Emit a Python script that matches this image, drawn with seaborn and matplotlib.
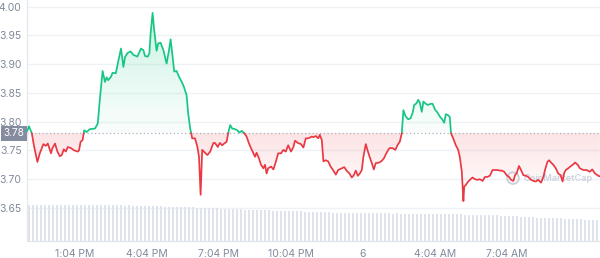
import numpy as np
import matplotlib
matplotlib.use("Agg")
import matplotlib.pyplot as plt
import seaborn as sns
from matplotlib.colors import to_rgb
from matplotlib.path import Path
from matplotlib.patches import PathPatch
import matplotlib.transforms as mtransforms

# ---------------- data ----------------
# minutes after 11:04 AM
times = [0,5,12,18,26,32,41,47,52,60,63,70,76,82,87,92,97,102,110,118,127,130,134,139,143,149,157,170,177,182,
         189,195,199,203,210,214,222,227,235,241,245,251,259,266,276,285,291,295,302,306,309,314,318,324,328,334,341,349,355,359,
         364,368,374,380,387,392,399,403,408,413,420,426,430,434,438,445,451,458,466,470,477,482,488,493,499,503,508,513,520,526,
         531,537,543,549,555,560,566,570,574,580,585,591,595,599,603,610,616,622,628,635,641,647,653,660,666,670,677,685,691,697,
         703,712,716,722,728,732,737,741,747,753,759,766,772,778,787,793,799,806,812,817,822,827,832,837,841,847,851,856,862,867,
         872,881,887,892,899,906,914,921,926,932,937,941,946,953,959,964,968,974,978,982,987,991,997,1003,1009,1014,1020,1026,1032,1039,
         1043,1047,1053,1057,1060,1066,1072,1078,1082,1087,1091,1093,1097,1103,1109,1114,1120,1126,1132,1139,1145,1151,1157,1164,1170,1176,1182,1187,1193,1199,
         1205,1210,1216,1220,1224,1230,1235,1241,1247,1253,1260,1266,1272,1278,1285,1291,1295,1301,1305,1310,1316,1322,1328,1334,1339,1343,1347,1353,1360,1366,
         1370,1377,1382,1391,1399,1407,1413,1420,1428,1432]
prices = [3.783,3.792,3.780,3.756,3.730,3.745,3.761,3.758,3.762,3.745,3.753,3.762,3.748,3.740,3.742,3.752,3.748,3.756,3.754,3.750,3.748,3.750,3.765,3.768,3.785,3.782,3.787,3.788,3.797,3.838,
          3.888,3.869,3.877,3.872,3.878,3.885,3.884,3.901,3.927,3.895,3.912,3.919,3.922,3.916,3.913,3.927,3.924,3.914,3.913,3.919,3.953,3.989,3.959,3.923,3.936,3.937,3.924,3.901,3.924,3.943,
          3.913,3.887,3.888,3.878,3.869,3.861,3.846,3.814,3.788,3.771,3.771,3.756,3.739,3.673,3.751,3.746,3.742,3.748,3.763,3.763,3.756,3.763,3.759,3.762,3.765,3.780,3.794,3.788,3.787,3.785,
          3.781,3.784,3.780,3.774,3.762,3.754,3.745,3.739,3.746,3.736,3.725,3.719,3.725,3.710,3.719,3.722,3.717,3.730,3.745,3.745,3.751,3.748,3.759,3.748,3.756,3.767,3.763,3.761,3.755,3.771,
          3.771,3.774,3.773,3.775,3.771,3.777,3.768,3.731,3.733,3.731,3.722,3.715,3.708,3.716,3.719,3.721,3.715,3.710,3.703,3.707,3.715,3.706,3.710,3.716,3.739,3.761,3.751,3.740,3.728,3.717,
          3.728,3.729,3.732,3.736,3.746,3.754,3.754,3.751,3.759,3.765,3.780,3.820,3.810,3.804,3.806,3.815,3.829,3.832,3.838,3.833,3.817,3.835,3.831,3.829,3.831,3.831,3.821,3.816,3.809,3.803,
          3.798,3.813,3.811,3.808,3.780,3.770,3.759,3.751,3.739,3.713,3.662,3.687,3.690,3.696,3.700,3.703,3.700,3.699,3.700,3.697,3.704,3.704,3.706,3.716,3.716,3.716,3.715,3.715,3.713,3.707,
          3.704,3.699,3.697,3.707,3.710,3.723,3.716,3.707,3.706,3.704,3.699,3.697,3.696,3.699,3.694,3.704,3.716,3.730,3.733,3.729,3.725,3.719,3.710,3.707,3.696,3.711,3.716,3.719,3.723,3.726,
          3.729,3.725,3.719,3.716,3.716,3.713,3.717,3.710,3.706,3.705]
base_price = 3.78

# volume bars, one per 10 minutes
volume = [36.0,36.0,35.8,36.0,36.0,35.9,36.0,35.8,36.0,36.0,35.9,36.0,35.8,36.0,35.9,36.0,35.7,35.8,35.9,35.7,35.8,35.6,35.8,
          35.6,35.5,35.6,35.4,35.5,35.3,35.4,35.2,35.0,34.8,
          34.6,34.5,34.4,34.2,34.3,34.0,33.9,33.8,33.6,33.4,
          33.2,33.0,33.1,32.8,32.7,32.5,32.4,32.2,32.0,31.9,31.7,31.5,31.4,31.2,31.0,30.9,30.8,30.6,
          30.5,30.4,30.3,30.1,30.0,29.9,29.8,29.6,29.5,29.3,29.2,29.0,28.9,28.7,28.6,
          28.4,28.3,28.2,28.1,28.0,28.0,27.9,27.9,27.8,27.8,27.7,27.8,27.6,27.7,27.6,27.5,27.6,27.5,27.4,27.5,27.4,27.3,27.4,27.3,27.2,27.2,27.1,27.0,27.0,26.9,26.8,26.7,26.6,26.5,26.4,
          26.3,26.2,26.1,26.0,25.9,25.8,25.6,25.5,25.4,25.2,25.0,24.8,24.5,24.2,24.0,
          23.6,23.4,23.2,23.0,22.9,22.8,22.7,22.6,22.5,22.3,22.1,21.9,
          21.7,21.5,21.4,21.3,21.2,21.1]
volume_step = 10  # minutes per bar

ytick_values = [3.65, 3.70, 3.75, 3.80, 3.85, 3.90, 3.95, 4.00]
xtick_minutes = [120, 300, 480, 660, 840, 1020, 1200]
xtick_labels = ["1:04 PM", "4:04 PM", "7:04 PM", "10:04 PM", "6", "4:04 AM", "7:04 AM"]

assert len(times) == len(prices), (len(times), len(prices))

# ---------------- style ----------------
sns.set_style("white")
plt.rcParams["font.family"] = ["Inter", "DejaVu Sans"]
GREEN = "#16c784"
RED = "#ea3943"
TXT = "#808a9d"
GRID = "#eff2f5"

fig = plt.figure(figsize=(6.0, 2.58), dpi=100)
ax = fig.add_axes([27 / 600, 17 / 258, 573 / 600, 241 / 258])

t = np.asarray(times, float)
p = np.asarray(prices, float)

# insert baseline crossings so colours switch exactly at the baseline
xs, ys = [t[0]], [p[0]]
for i in range(1, len(t)):
    a, b = p[i - 1] - base_price, p[i] - base_price
    if a * b < 0:
        f = a / (a - b)
        xs.append(t[i - 1] + f * (t[i] - t[i - 1]))
        ys.append(base_price)
    xs.append(t[i]); ys.append(p[i])
xs = np.array(xs); ys = np.array(ys)


def grad_fill(mask, color, y_lo, y_hi, a_lo, a_hi):
    coll = ax.fill_between(xs, ys, base_price, where=mask, interpolate=True,
                           color="none", linewidth=0)
    paths = coll.get_paths()
    if not paths:
        return
    path = Path.make_compound_path(*paths)
    patch = PathPatch(path, transform=ax.transData, facecolor="none", edgecolor="none")
    ax.add_patch(patch)
    n = 256
    img = np.zeros((n, 1, 4))
    img[:, 0, :3] = to_rgb(color)
    img[:, 0, 3] = np.linspace(a_lo, a_hi, n)
    im = ax.imshow(img, extent=[xs.min(), xs.max(), y_lo, y_hi], origin="lower",
                   aspect="auto", interpolation="bilinear", zorder=1)
    im.set_clip_path(patch)


above = ys >= base_price - 1e-12
below = ys <= base_price + 1e-12
grad_fill(above, GREEN, base_price, ys.max(), 0.02, 0.22)
grad_fill(below, RED, ys.min(), base_price, 0.0, 0.14)

# coloured line runs
def runs(mask):
    idx = np.where(mask)[0]
    if len(idx) == 0:
        return []
    splits = np.where(np.diff(idx) > 1)[0] + 1
    return np.split(idx, splits)

for mask, col in ((above, GREEN), (below, RED)):
    for r in runs(mask):
        if len(r) < 2:
            continue
        sns.lineplot(x=xs[r], y=ys[r], ax=ax, color=col, linewidth=1.25,
                     estimator=None, sort=False, zorder=3)

# baseline
ax.axhline(base_price, color="#a6b0c3", linestyle=(0, (1, 2)), linewidth=0.9, zorder=2)

# limits
ax.set_xlim(0, 1432.5)
ax.set_ylim(3.5927, 4.0113)

# grid and ticks
ax.set_yticks(ytick_values)
ax.set_yticklabels([f"{v:.2f}" for v in ytick_values])
ax.yaxis.grid(True, color=GRID, linewidth=1.0, zorder=0)
ax.xaxis.grid(False)
ax.set_xticks(xtick_minutes)
ax.set_xticklabels(xtick_labels)
ax.tick_params(axis="y", length=0, pad=4, labelsize=7.5, labelcolor=TXT)
ax.tick_params(axis="x", length=3, width=0.8, color="#a6b0c3", pad=2.5, labelsize=7.5, labelcolor=TXT)
for s in ("top", "right"):
    ax.spines[s].set_visible(False)
ax.spines["left"].set_color("#e6e9ef")
ax.spines["left"].set_linewidth(1.0)
ax.spines["bottom"].set_color("#dfe3ea")
ax.spines["bottom"].set_linewidth(0.8)
ax.set_xlabel("")
ax.set_ylabel("")

# current price badge
trans = mtransforms.blended_transform_factory(ax.transAxes, ax.transData)
ax.text(-0.005, base_price, f"{base_price:.2f}", transform=trans, ha="right", va="center",
        fontsize=7.2, color="white", zorder=6, clip_on=False,
        bbox=dict(boxstyle="square,pad=0.25", facecolor="#858ca0", edgecolor="none"))

# watermark
ax.text(0.866, 3.702, "CoinMarketCap", transform=trans, ha="left", va="center",
        fontsize=6.6, color="#c4cad7", alpha=0.85, zorder=2, fontweight="semibold")
ax.scatter([1215], [3.702], s=70, facecolor="none", edgecolor="#c4cad7", linewidth=1.4,
           alpha=0.85, zorder=2)

# volume bars
ax2 = ax.twinx()
vt = np.arange(len(volume)) * volume_step + volume_step / 2
ax2.bar(vt, volume, width=volume_step * 0.62, color="#dfe3ee", linewidth=0, zorder=1)
ax2.set_ylim(0, max(volume) * 241 / 36)
ax2.set_xlim(0, 1432.5)
ax2.set_yticks([])
for s in ax2.spines.values():
    s.set_visible(False)

fig.savefig("out.png", dpi=100)
